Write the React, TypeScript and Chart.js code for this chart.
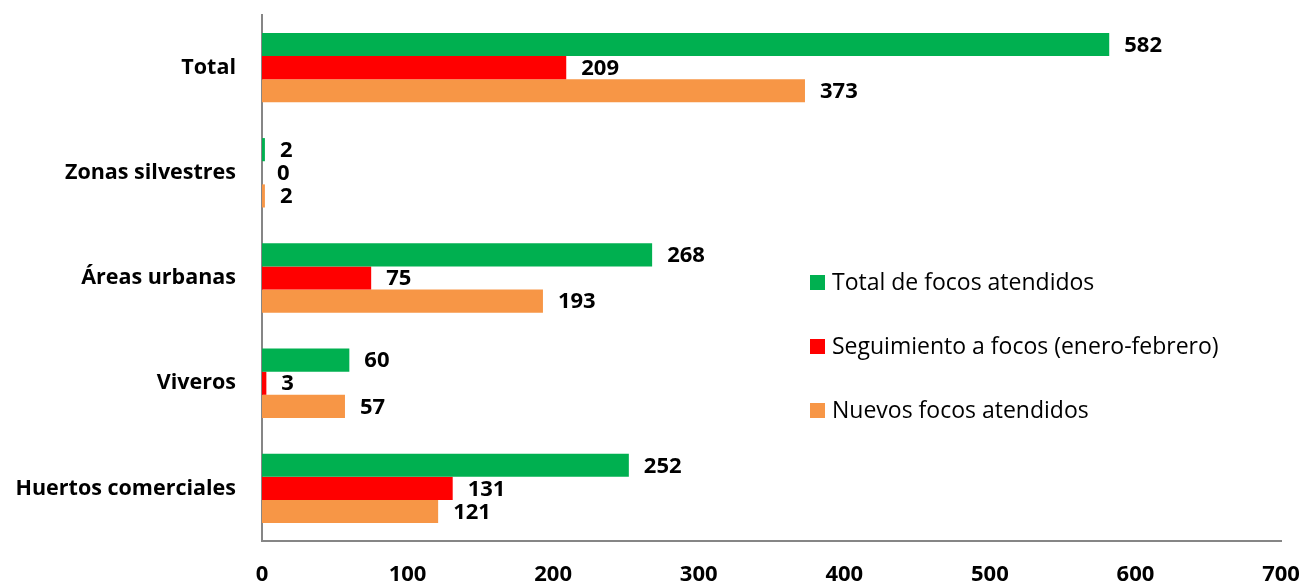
import React, { useEffect, useRef } from "react";
import { Chart, registerables } from "chart.js";

Chart.register(...registerables);

const categories = ["Total", "Zonas silvestres", "Áreas urbanas", "Viveros", "Huertos comerciales"];
const totalFocos = [582, 2, 268, 60, 252];
const seguimiento = [209, 0, 75, 3, 131];
const nuevos = [373, 2, 193, 57, 121];
const seriesNames = ["Total de focos atendidos", "Seguimiento a focos (enero-febrero)", "Nuevos focos atendidos"];
const seriesColors = ["#00B050", "#FF0000", "#F79646"];
const xTicks = [0, 100, 200, 300, 400, 500, 600, 700];

const FONT = "'Open Sans', sans-serif";

const labelPlugin = {
  id: "valueLabels",
  afterDatasetsDraw(chart: any) {
    const ctx = chart.ctx;
    ctx.save();
    ctx.font = `bold 22px ${FONT}`;
    ctx.fillStyle = "#000";
    ctx.textAlign = "left";
    ctx.textBaseline = "middle";
    chart.data.datasets.forEach((ds: any, i: number) => {
      const meta = chart.getDatasetMeta(i);
      meta.data.forEach((bar: any, j: number) => {
        ctx.fillText(String(ds.data[j]), bar.x + 15, bar.y + 1);
      });
    });
    ctx.restore();
  },
};

const legendPlugin = {
  id: "customLegend",
  afterDraw(chart: any) {
    const ctx = chart.ctx;
    ctx.save();
    ctx.font = `23px ${FONT}`;
    ctx.textAlign = "left";
    ctx.textBaseline = "middle";
    const x = 810;
    const ys = [282, 346, 410];
    seriesNames.forEach((name, i) => {
      ctx.fillStyle = seriesColors[i];
      ctx.fillRect(x, ys[i] - 7, 15, 15);
      ctx.fillStyle = "#000";
      ctx.fillText(name, x + 22, ys[i] + 1);
    });
    ctx.restore();
  },
};

export default function App() {
  const ref = useRef<HTMLCanvasElement>(null);
  useEffect(() => {
    document.body.style.margin = "0";
    const chart = new Chart(ref.current!, {
      type: "bar",
      data: {
        labels: categories,
        datasets: [
          { label: seriesNames[0], data: totalFocos, backgroundColor: seriesColors[0] },
          { label: seriesNames[1], data: seguimiento, backgroundColor: seriesColors[1] },
          { label: seriesNames[2], data: nuevos, backgroundColor: seriesColors[2] },
        ],
      },
      options: {
        indexAxis: "y",
        responsive: false,
        animation: false,
        layout: { padding: { top: 15, right: 23, left: 0, bottom: 0 } },
        datasets: { bar: { categoryPercentage: 0.66, barPercentage: 1 } },
        plugins: { legend: { display: false }, tooltip: { enabled: false } },
        scales: {
          x: {
            min: 0,
            max: 700,
            afterBuildTicks: (s: any) => {
              s.ticks = xTicks.map((v) => ({ value: v }));
            },
            afterFit: (s: any) => {
              s.height = 43;
              s.paddingLeft = 0;
              s.paddingRight = 0;
            },
            grid: { display: false, drawTicks: false },
            border: { color: "#868686", width: 2 },
            ticks: {
              padding: 21,
              color: "#000",
              font: { family: FONT, size: 22, weight: "bold" },
            },
          },
          y: {
            afterFit: (s: any) => {
              s.width = 262;
              s.paddingTop = 0;
              s.paddingBottom = 0;
            },
            grid: { display: false, drawTicks: false },
            border: { color: "#868686", width: 2 },
            ticks: {
              padding: 26,
              color: "#000",
              font: { family: FONT, size: 21.5, weight: "bold" },
            },
          },
        },
      },
      plugins: [labelPlugin, legendPlugin],
    } as any);
    return () => chart.destroy();
  }, []);
  return <canvas ref={ref} width={1304} height={584} style={{ display: "block" }} />;
}
